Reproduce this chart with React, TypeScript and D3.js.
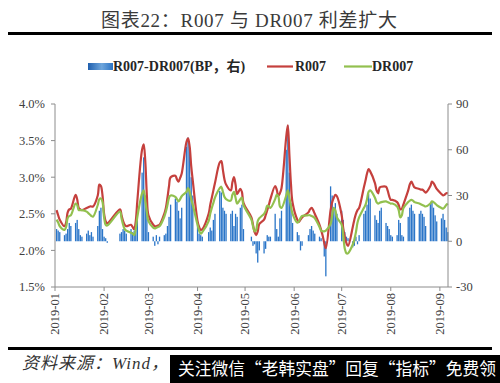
import React from "react";
import * as d3 from "d3";

// Trading days per month of 2019 (index 0 = January)
const TRADING_DAYS: number[][] = [
  [2, 3, 4, 7, 8, 9, 10, 11, 14, 15, 16, 17, 18, 21, 22, 23, 24, 25, 28, 29, 30, 31],
  [1, 2, 3, 11, 12, 13, 14, 15, 18, 19, 20, 21, 22, 25, 26, 27, 28],
  [1, 4, 5, 6, 7, 8, 11, 12, 13, 14, 15, 18, 19, 20, 21, 22, 25, 26, 27, 28, 29],
  [1, 2, 3, 4, 8, 9, 10, 11, 12, 15, 16, 17, 18, 19, 22, 23, 24, 25, 26, 28, 29, 30],
  [5, 6, 7, 8, 9, 10, 13, 14, 15, 16, 17, 20, 21, 22, 23, 24, 27, 28, 29, 30, 31],
  [3, 4, 5, 6, 10, 11, 12, 13, 14, 17, 18, 19, 20, 21, 24, 25, 26, 27, 28],
  [1, 2, 3, 4, 5, 8, 9, 10, 11, 12, 15, 16, 17, 18, 19, 22, 23, 24, 25, 26, 29, 30, 31],
  [1, 2, 5, 6, 7, 8, 9, 12, 13, 14, 15, 16, 19, 20, 21, 22, 23, 26, 27, 28, 29, 30],
  [2, 3, 4, 5, 6],
];

// R007 (%)
const R007: number[] = [
  2.55, 2.48, 2.42, 2.33, 2.38, 2.52, 2.56, 2.57, 2.76, 2.70, 2.58, 2.56, 2.55, 2.58, 2.59, 2.60, 2.60, 2.60, 2.75, 2.90, 2.88, 2.75,
  2.50, 2.40, 2.37, 2.56, 2.48, 2.40, 2.35, 2.33, 2.35, 2.32, 2.29, 2.40, 2.68, 3.38, 3.45, 3.22, 2.75,
  2.48, 2.35, 2.33, 2.33, 2.34, 2.35, 2.50, 2.58, 2.72, 2.88, 3.00, 3.02, 2.97, 2.94, 2.99, 3.05, 3.48, 3.53, 3.42, 3.15, 2.95,
  2.40, 2.32, 2.28, 2.29, 2.50, 2.62, 2.72, 2.82, 2.92, 3.20, 3.22, 3.10, 2.97, 2.90, 2.82, 2.93, 3.00, 2.90, 2.77, 2.84, 2.80, 2.65,
  2.45, 2.35, 2.25, 2.21, 2.26, 2.36, 2.42, 2.48, 2.55, 2.62, 2.70, 2.88, 2.83, 2.74, 2.78, 2.85, 3.55, 3.71, 3.30, 2.90, 2.65,
  2.42, 2.39, 2.42, 2.45, 2.52, 2.56, 2.58, 2.55, 2.50, 2.35, 2.28, 2.20, 2.10, 2.03, 2.55, 2.66, 2.72, 2.76, 2.74,
  2.48, 2.30, 2.18, 2.10, 2.06, 2.32, 2.42, 2.50, 2.55, 2.58, 2.86, 2.95, 3.05, 3.11, 3.08, 2.92, 2.82, 2.78, 2.86, 2.87, 2.87, 2.82, 2.74,
  2.69, 2.69, 2.66, 2.62, 2.56, 2.57, 2.63, 2.82, 2.90, 2.94, 2.90, 2.86, 2.84, 2.83, 2.83, 2.81, 2.79, 2.88, 2.94, 2.92, 2.88, 2.84,
  2.77, 2.75, 2.76, 2.78, 2.78,
];

// DR007 (%)
const DR007: number[] = [
  2.42, 2.38, 2.33, 2.28, 2.32, 2.44, 2.47, 2.48, 2.64, 2.62, 2.55, 2.55, 2.55, 2.53, 2.51, 2.49, 2.47, 2.46, 2.62, 2.70, 2.71, 2.66,
  2.45, 2.35, 2.34, 2.53, 2.44, 2.35, 2.29, 2.27, 2.24, 2.23, 2.21, 2.30, 2.46, 2.78, 2.82, 2.68, 2.52,
  2.40, 2.31, 2.30, 2.31, 2.32, 2.33, 2.46, 2.53, 2.62, 2.72, 2.75, 2.73, 2.70, 2.67, 2.70, 2.74, 2.80, 2.85, 2.80, 2.70, 2.62,
  2.35, 2.27, 2.23, 2.25, 2.40, 2.50, 2.58, 2.65, 2.72, 2.85, 2.87, 2.80, 2.73, 2.70, 2.68, 2.76, 2.80, 2.72, 2.64, 2.70, 2.72, 2.62,
  2.42, 2.33, 2.26, 2.28, 2.40, 2.44, 2.50, 2.54, 2.61, 2.60, 2.58, 2.70, 2.76, 2.74, 2.60, 2.58, 2.75, 2.82, 2.72, 2.60, 2.50,
  2.38, 2.40, 2.44, 2.47, 2.48, 2.48, 2.47, 2.46, 2.44, 2.32, 2.27, 2.26, 2.26, 2.27, 2.36, 2.48, 2.58, 2.55, 2.45,
  2.35, 2.20, 2.02, 1.96, 1.96, 2.08, 2.15, 2.25, 2.38, 2.45, 2.58, 2.62, 2.70, 2.80, 2.82, 2.72, 2.66, 2.64, 2.65, 2.66, 2.67, 2.66, 2.65,
  2.64, 2.64, 2.60, 2.55, 2.45, 2.48, 2.58, 2.66, 2.68, 2.69, 2.68, 2.66, 2.64, 2.63, 2.62, 2.61, 2.60, 2.64, 2.67, 2.66, 2.64, 2.62,
  2.58, 2.57, 2.59, 2.62, 2.64,
];

// R007-DR007 (BP, right axis)
const SPREAD_BP: number[] = [
  8, 7, 6, 4, 5, 8, 12, 10, 12, 14, 8, 4, 3, 5, 7, 4, 6, 3, 10, 20, 22, 8,
  3, 2, -1, 5, 6, 8, 7, 5, 8, 6, 7, 12, 14, 45, 55, 30, 18,
  6, 3, -3, 4, -2, 3, 4, 5, 10, 16, 24, 28, 26, 20, 15, 22, 62, 68, 60, 42, 30,
  12, 5, 4, 3, 6, 9, 7, 14, 18, 33, 32, 22, 20, 18, 18, 20, 10, 18, 16, 22, 24, 8,
  3, -3, -2, -8, -14, -6, -8, -5, 4, 3, 3, 18, 8, 3, 15, 20, 60, 76, 45, 25, 12,
  6, 4, -6, -3, 4, 8, 10, 7, 5, 3, 2, 0, -10, -23, 36, 30, 22, 25, 18,
  20, 14, 6, 3, 2, -4, -3, 3, -2, 4, 18, 20, 24, 31, 28, 17, 14, 12, 20, 22, 12, 10, 8,
  4, 3, 4, 14, 12, 4, 3, 16, 22, 24, 20, 18, 18, 20, 18, 16, 10, 25, 26, 22, 17, 13,
  15, 18, 14, 9, 6,
];

const LEFT_TICKS = [1.5, 2.0, 2.5, 3.0, 3.5, 4.0];
const RIGHT_TICKS = [-30, 0, 30, 60, 90];
const MONTH_LABELS = ["2019-01", "2019-02", "2019-03", "2019-04", "2019-05", "2019-06", "2019-07", "2019-08", "2019-09"];

const TITLE = "图表22：R007 与 DR007 利差扩大";
const LEGEND_LABELS = ["R007-DR007(BP，右)", "R007", "DR007"];
const SOURCE = "资料来源：Wind，";
const BANNER = "关注微信“老韩实盘”回复“指标”免费领";

type Row = { date: Date; r: number; dr: number; s: number };

const DATES: Date[] = TRADING_DAYS.flatMap((days, m) => days.map((d) => new Date(Date.UTC(2019, m, d))));
const ROWS: Row[] = DATES.map((date, i) => ({ date, r: R007[i], dr: DR007[i], s: SPREAD_BP[i] }));

const SERIF = "'Liberation Serif', 'Times New Roman', 'Noto Sans CJK SC', serif";
const CJK = "'Noto Sans CJK SC', sans-serif";

export default function App() {
  const left = 55;
  const right = 448;
  const top = 104;
  const bottom = 287;

  const x = d3
    .scaleUtc()
    .domain([new Date(Date.UTC(2019, 0, 1)), new Date(Date.UTC(2019, 8, 6))])
    .range([left, right - 0.2]);
  const yL = d3.scaleLinear().domain([1.5, 4.0]).range([bottom, top]);
  const yR = d3.scaleLinear().domain([-30, 90]).range([bottom, top]);

  const curve = d3.curveCatmullRom.alpha(0.5);
  const lineR = d3.line<Row>().x((d) => x(d.date)).y((d) => yL(d.r)).curve(curve);
  const lineDR = d3.line<Row>().x((d) => x(d.date)).y((d) => yL(d.dr)).curve(curve);

  const monthDates = MONTH_LABELS.map((_, i) => new Date(Date.UTC(2019, i, 1)));
  const barW = 1.3;
  const axisColor = "#8c8c8c";
  const textColor = "#404040";

  return (
    <svg
      width={500}
      height={383}
      viewBox="0 0 500 383"
      style={{ position: "absolute", left: 0, top: 0, background: "#fff" }}
    >
      <defs>
        <linearGradient id="barGrad" x1="0" x2="1" y1="0" y2="0">
          <stop offset="0%" stopColor="#1f5fae" />
          <stop offset="55%" stopColor="#6fa6dc" />
          <stop offset="100%" stopColor="#2c73c4" />
        </linearGradient>
      </defs>
      <rect x={0} y={0} width={500} height={383} fill="#fff" />

      {/* Title */}
      <text
        x={101}
        y={27}
        fontSize={19}
        fontFamily={SERIF}
        fill="#3a3a3a"
        textLength={296}
        lengthAdjust="spacing"
      >
        {TITLE}
      </text>
      <line x1={8} x2={492} y1={33.5} y2={33.5} stroke="#000" strokeWidth={3} />

      {/* Legend */}
      <g fontFamily={SERIF} fontWeight="bold" fontSize={14} fill="#262626">
        <rect x={88} y={63} width={25} height={7} fill="url(#barGrad)" />
        <text x={113} y={71}>{LEGEND_LABELS[0]}</text>
        <line x1={267} x2={293} y1={66.5} y2={66.5} stroke="#c5403d" strokeWidth={2.2} />
        <text x={295} y={71}>{LEGEND_LABELS[1]}</text>
        <line x1={344} x2={372} y1={66.5} y2={66.5} stroke="#92c04f" strokeWidth={2.2} />
        <text x={372} y={71}>{LEGEND_LABELS[2]}</text>
      </g>

      {/* Bars */}
      <g>
        {ROWS.map((d, i) => {
          const y0 = yR(0);
          const y1 = yR(d.s);
          return (
            <rect
              key={i}
              x={x(d.date) - barW / 2}
              y={Math.min(y0, y1)}
              width={barW}
              height={Math.abs(y1 - y0)}
              fill="#2a75c8"
            />
          );
        })}
      </g>

      {/* Lines */}
      <path d={lineR(ROWS) || ""} fill="none" stroke="#c5403d" strokeWidth={2.2} strokeLinejoin="round" />
      <path d={lineDR(ROWS) || ""} fill="none" stroke="#92c04f" strokeWidth={2.2} strokeLinejoin="round" />

      {/* Axes */}
      <g stroke={axisColor} strokeWidth={1}>
        <line x1={left} x2={left} y1={top} y2={bottom} />
        <line x1={right} x2={right} y1={top} y2={bottom} />
        <line x1={left} x2={right} y1={bottom} y2={bottom} />
        {LEFT_TICKS.map((t) => (
          <line key={"lt" + t} x1={left - 4} x2={left} y1={yL(t)} y2={yL(t)} />
        ))}
        {RIGHT_TICKS.map((t) => (
          <line key={"rt" + t} x1={right} x2={right + 4} y1={yR(t)} y2={yR(t)} />
        ))}
        {monthDates.map((d, i) => (
          <line key={"mt" + i} x1={x(d)} x2={x(d)} y1={bottom} y2={bottom + 4} />
        ))}
      </g>
      <g fontFamily={SERIF} fontSize={12.5} fill={textColor}>
        {LEFT_TICKS.map((t) => (
          <text key={"ll" + t} x={left - 10} y={yL(t)} dy="0.35em" textAnchor="end">
            {t.toFixed(1) + "%"}
          </text>
        ))}
        {RIGHT_TICKS.map((t) => (
          <text key={"rl" + t} x={right + 8} y={yR(t)} dy="0.35em" textAnchor="start">
            {t}
          </text>
        ))}
        {monthDates.map((d, i) => (
          <text
            key={"ml" + i}
            transform={`translate(${x(d)},${bottom + 6}) rotate(-90)`}
            dy="0.35em"
            textAnchor="end"
          >
            {MONTH_LABELS[i]}
          </text>
        ))}
      </g>

      {/* Footer */}
      <line x1={8} x2={492} y1={348.5} y2={348.5} stroke="#000" strokeWidth={3} />
      <text
        x={22}
        y={369}
        fontSize={17}
        fontFamily={SERIF}
        fontStyle="italic"
        fill="#333"
        textLength={146}
        lengthAdjust="spacing"
      >
        {SOURCE}
      </text>
      <rect x={170} y={355} width={330} height={28} fill="#000" />
      <text x={178} y={375} fontSize={17} fontFamily={CJK} fill="#fff" textLength={318} lengthAdjust="spacingAndGlyphs">
        {BANNER}
      </text>
    </svg>
  );
}
